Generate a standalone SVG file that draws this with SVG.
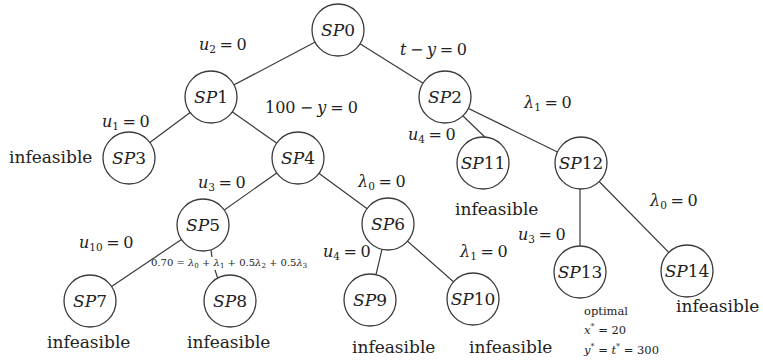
<svg xmlns="http://www.w3.org/2000/svg" width="763" height="360" viewBox="0 0 763 360">
<style>
.n circle{fill:#fff;stroke:#3a3a3a;stroke-width:1.3}
.n text{font-family:"DejaVu Serif","Liberation Serif",serif;font-size:17px;text-anchor:middle;fill:#222}
.e line{stroke:#3a3a3a;stroke-width:1.2}
.t{font-family:"DejaVu Serif","Liberation Serif",serif;font-size:17px;fill:#222}
.q{font-family:"DejaVu Serif","Liberation Serif",serif;font-size:16px;fill:#222;word-spacing:-1.5px}
.s{font-family:"DejaVu Serif","Liberation Serif",serif;font-size:10px;fill:#222}
.o{font-family:"DejaVu Serif","Liberation Serif",serif;font-size:11.5px;fill:#222}
.i{font-style:italic}
.sub{font-size:10.5px}
</style>
<rect width="763" height="360" fill="#fff"/>
<g id="connectors" class="e">
<line x1="338" y1="30" x2="211" y2="97"/>
<line x1="338" y1="30" x2="445" y2="97"/>
<line x1="211" y1="97" x2="129" y2="158"/>
<line x1="211" y1="97" x2="298" y2="158"/>
<line x1="445" y1="97" x2="580" y2="163"/>
<line x1="462" y1="115" x2="490" y2="142"/>
<line x1="298" y1="158" x2="203" y2="225"/>
<line x1="298" y1="158" x2="388" y2="224"/>
<line x1="203" y1="225" x2="90" y2="301"/>
<line x1="211" y1="250" x2="212" y2="257"/>
<line x1="215" y1="270" x2="218" y2="279"/>
<line x1="388" y1="224" x2="370" y2="300"/>
<line x1="388" y1="224" x2="473" y2="299"/>
<line x1="580" y1="163" x2="580" y2="272"/>
<line x1="581" y1="163" x2="687" y2="271"/>
</g>
<g id="SP0" class="n"><circle cx="338" cy="30" r="26"/><text x="338" y="36"><tspan class="i">SP</tspan>0</text></g>
<g id="SP1" class="n"><circle cx="211" cy="97" r="26"/><text x="211" y="103"><tspan class="i">SP</tspan>1</text></g>
<g id="SP2" class="n"><circle cx="445" cy="97" r="26"/><text x="445" y="103"><tspan class="i">SP</tspan>2</text></g>
<g id="SP3" class="n"><circle cx="129" cy="158" r="26"/><text x="129" y="164"><tspan class="i">SP</tspan>3</text></g>
<g id="SP4" class="n"><circle cx="298" cy="158" r="26"/><text x="298" y="164"><tspan class="i">SP</tspan>4</text></g>
<g id="SP5" class="n"><circle cx="203" cy="225" r="26"/><text x="203" y="231"><tspan class="i">SP</tspan>5</text></g>
<g id="SP6" class="n"><circle cx="388" cy="224" r="26"/><text x="388" y="230"><tspan class="i">SP</tspan>6</text></g>
<g id="SP7" class="n"><circle cx="90" cy="301" r="26"/><text x="90" y="307"><tspan class="i">SP</tspan>7</text></g>
<g id="SP8" class="n"><circle cx="230" cy="301" r="26"/><text x="230" y="307"><tspan class="i">SP</tspan>8</text></g>
<g id="SP9" class="n"><circle cx="370" cy="300" r="26"/><text x="370" y="306"><tspan class="i">SP</tspan>9</text></g>
<g id="SP10" class="n"><circle cx="473" cy="299" r="26"/><text x="473" y="305"><tspan class="i">SP</tspan>10</text></g>
<g id="SP11" class="n"><circle cx="483" cy="163" r="26"/><text x="483" y="169"><tspan class="i">SP</tspan>11</text></g>
<g id="SP12" class="n"><circle cx="581" cy="163" r="26"/><text x="581" y="169"><tspan class="i">SP</tspan>12</text></g>
<g id="SP13" class="n"><circle cx="580" cy="272" r="26"/><text x="580" y="278"><tspan class="i">SP</tspan>13</text></g>
<g id="SP14" class="n"><circle cx="687" cy="271" r="26"/><text x="687" y="277"><tspan class="i">SP</tspan>14</text></g>
<g id="labels">
<text class="q" x="199" y="50"><tspan class="i">u</tspan><tspan class="sub" dy="3">2</tspan><tspan dy="-3"> = 0</tspan></text>
<text class="q" x="400" y="55"><tspan class="i">t</tspan> − <tspan class="i">y</tspan> = 0</text>
<text class="q" x="265" y="113" style="word-spacing:-1px">100 − <tspan class="i">y</tspan> = 0</text>
<text class="q" x="102" y="127"><tspan class="i">u</tspan><tspan class="sub" dy="3">1</tspan><tspan dy="-3"> = 0</tspan></text>
<text class="t" x="9" y="163">infeasible</text>
<text class="q" x="198" y="188"><tspan class="i">u</tspan><tspan class="sub" dy="3">3</tspan><tspan dy="-3"> = 0</tspan></text>
<text class="q" x="524" y="108"><tspan class="i">λ</tspan><tspan class="sub" dy="3">1</tspan><tspan dy="-3"> = 0</tspan></text>
<text class="q" x="408" y="140"><tspan class="i">u</tspan><tspan class="sub" dy="3">4</tspan><tspan dy="-3"> = 0</tspan></text>
<text class="q" x="358" y="187"><tspan class="i">λ</tspan><tspan class="sub" dy="3">0</tspan><tspan dy="-3"> = 0</tspan></text>
<text class="t" x="455" y="215">infeasible</text>
<text class="q" x="650" y="206"><tspan class="i">λ</tspan><tspan class="sub" dy="3">0</tspan><tspan dy="-3"> = 0</tspan></text>
<text class="q" x="518" y="240"><tspan class="i">u</tspan><tspan class="sub" dy="3">3</tspan><tspan dy="-3"> = 0</tspan></text>
<text class="q" x="79" y="248"><tspan class="i">u</tspan><tspan class="sub" dy="3">10</tspan><tspan dy="-3"> = 0</tspan></text>
<text class="s" x="151" y="266">0.70 = <tspan class="i">λ</tspan><tspan font-size="7" dy="2">0</tspan><tspan dy="-2"> + </tspan><tspan class="i">λ</tspan><tspan font-size="7" dy="2">1</tspan><tspan dy="-2"> + 0.5</tspan><tspan class="i">λ</tspan><tspan font-size="7" dy="2">2</tspan><tspan dy="-2"> + 0.5</tspan><tspan class="i">λ</tspan><tspan font-size="7" dy="2">3</tspan></text>
<text class="q" x="323" y="257"><tspan class="i">u</tspan><tspan class="sub" dy="3">4</tspan><tspan dy="-3"> = 0</tspan></text>
<text class="q" x="460" y="257"><tspan class="i">λ</tspan><tspan class="sub" dy="3">1</tspan><tspan dy="-3"> = 0</tspan></text>
<text class="t" x="47" y="348">infeasible</text>
<text class="t" x="187" y="348">infeasible</text>
<text class="t" x="352" y="353">infeasible</text>
<text class="t" x="469" y="353">infeasible</text>
<text class="t" x="676" y="312">infeasible</text>
<text class="o" x="584" y="315">optimal</text>
<text class="o" x="584" y="334"><tspan class="i">x</tspan><tspan font-size="8" dy="-5">*</tspan><tspan dy="5"> = 20</tspan></text>
<text class="o" x="584" y="354"><tspan class="i">y</tspan><tspan font-size="8" dy="-5">*</tspan><tspan dy="5"> = </tspan><tspan class="i">t</tspan><tspan font-size="8" dy="-5">*</tspan><tspan dy="5"> = 300</tspan></text>
</g>
</svg>
